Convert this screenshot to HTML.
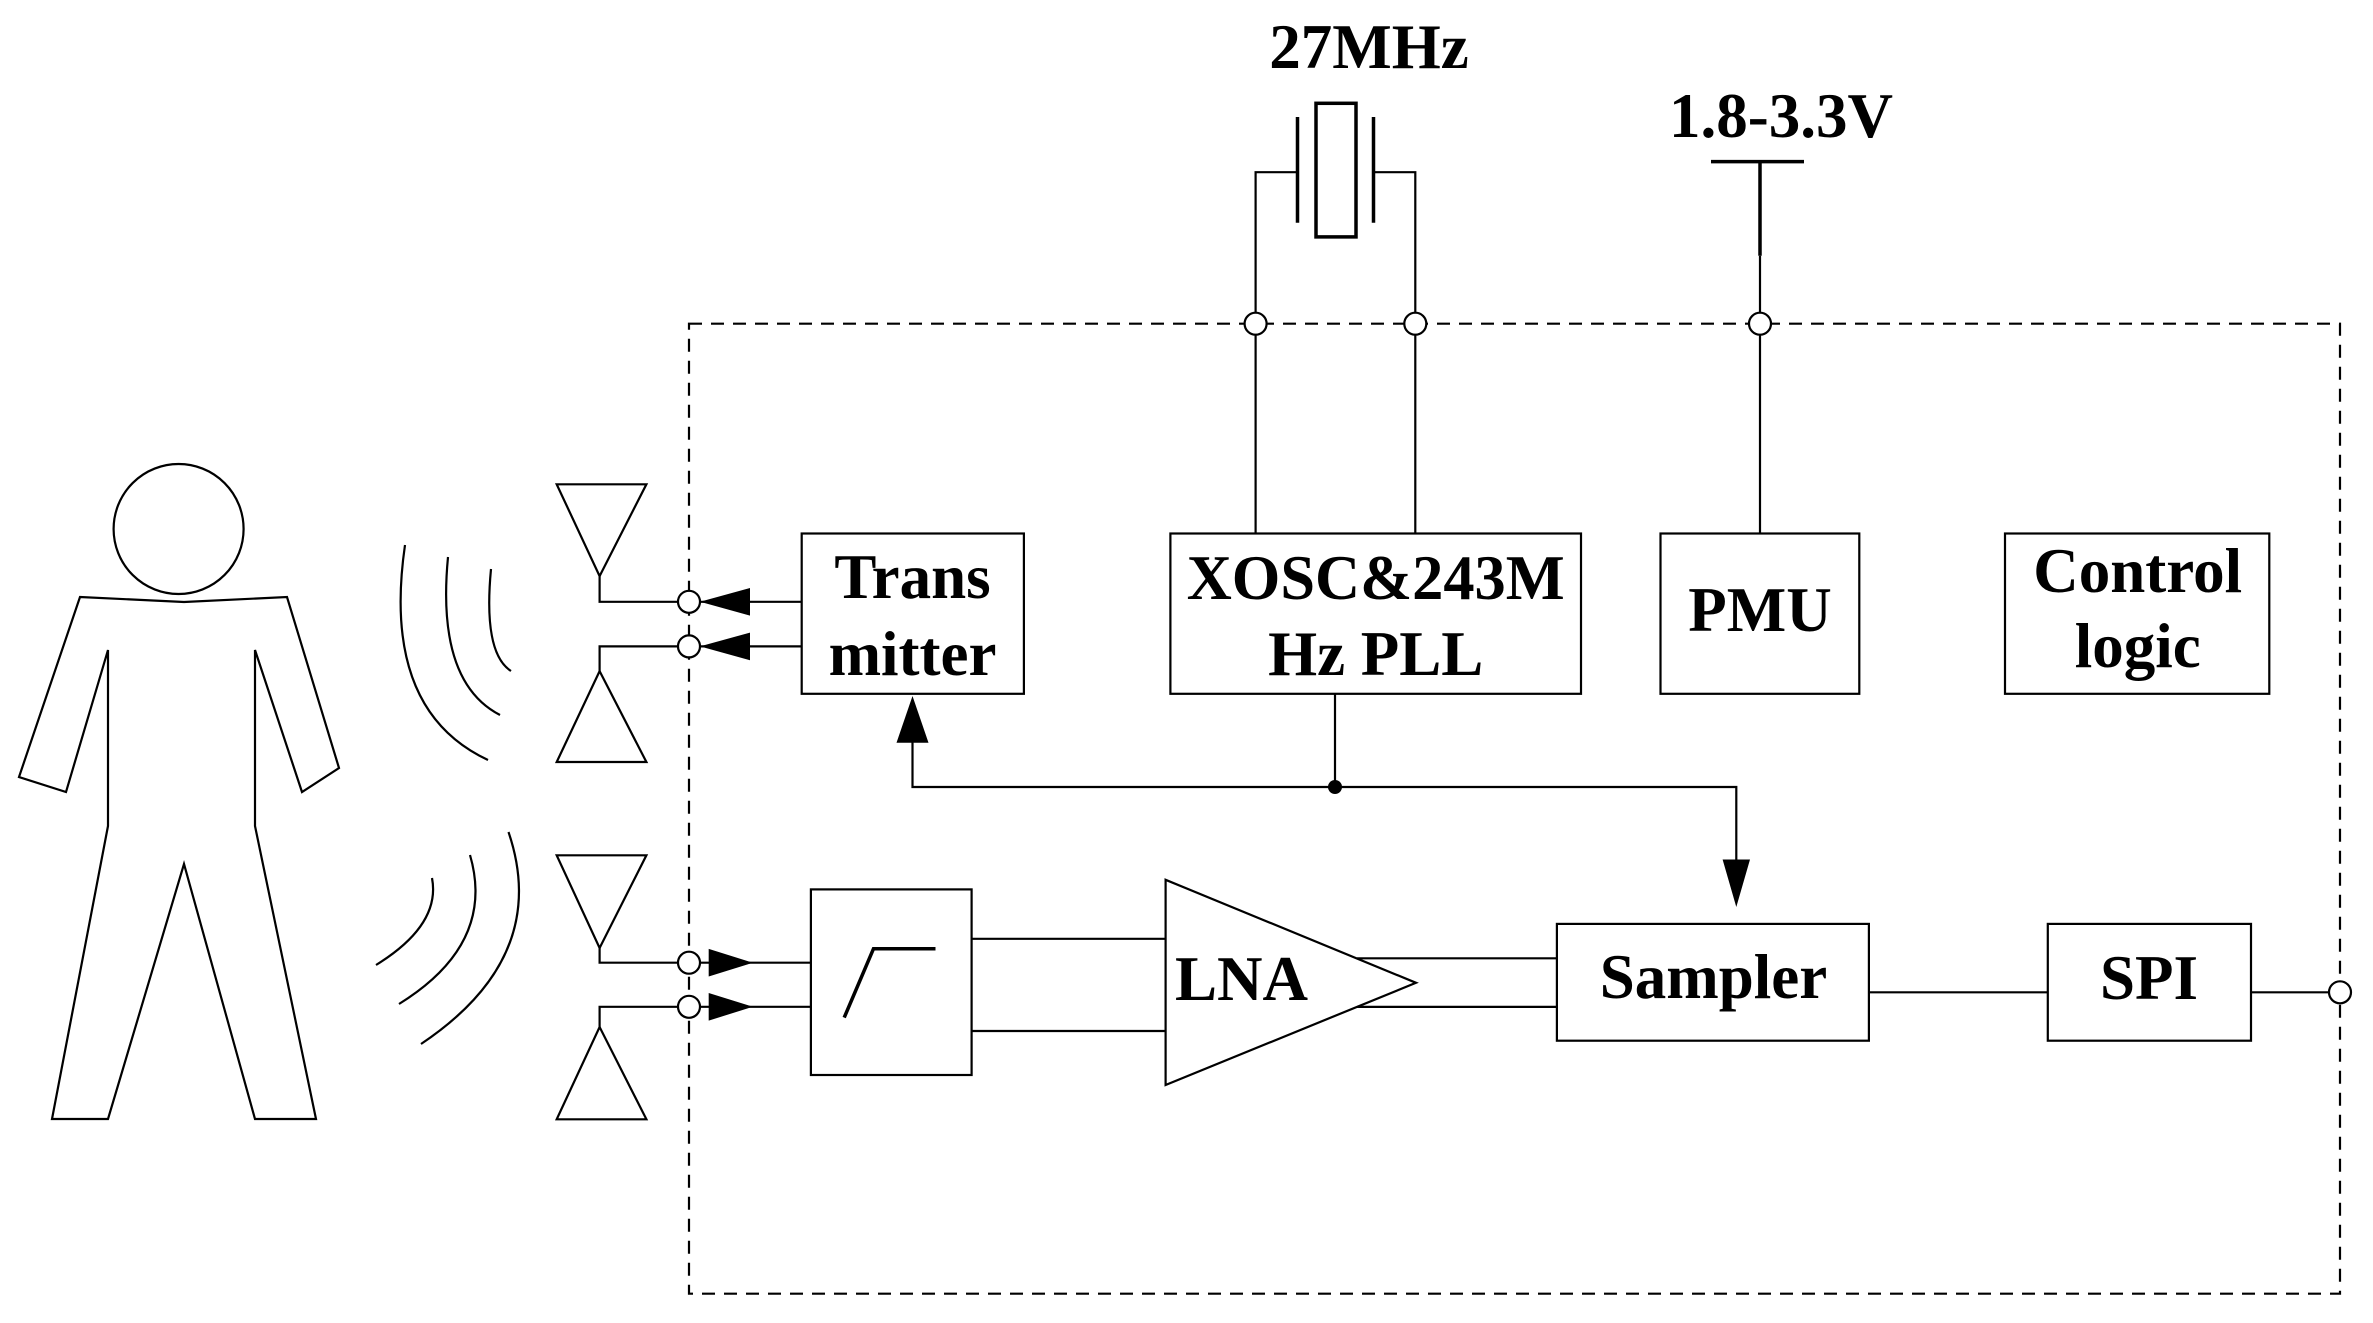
<!DOCTYPE html>
<html><head><meta charset="utf-8"><style>
html,body{margin:0;padding:0;background:#fff}
svg{display:block}
text{font-family:"Liberation Serif",serif;font-weight:bold;fill:#000}
</style></head><body>
<svg width="2373" height="1323" viewBox="0 0 2373 1323" xmlns="http://www.w3.org/2000/svg">
<g fill="none" stroke="#000" stroke-width="2.2">
<!-- dashed chip boundary -->
<rect x="689" y="323.7" width="1651" height="970" stroke-dasharray="13,9"/>
<!-- person -->
<circle cx="178.6" cy="529" r="65"/>
<polygon points="80,597 184,602 287,597 339,768 302,792 255,650 255,826 316,1119 255,1119 184,864 108,1119 52,1119 108,826 108,650 66,792 19,777"/>
<!-- waves -->
<path d="M405,545 Q381,710 488,760"/>
<path d="M448,557 Q436,682 500,715"/>
<path d="M491,569 Q483,653 511,671"/>
<path d="M432,878 Q441,925 376,965"/>
<path d="M470,855 Q496,944 399,1004"/>
<path d="M508.5,832 Q551,957 421,1044"/>
<!-- antennas -->
<polygon points="556.7,484.3 646.4,484.3 599.6,576.1"/>
<polyline points="599.6,576.1 599.6,601.8 678,601.8"/>
<polygon points="556.7,762 646.4,762 599.6,671.1"/>
<polyline points="599.6,671.1 599.6,646.4 678,646.4"/>
<polygon points="556.7,855.3 646.4,855.3 599.6,948"/>
<polyline points="599.6,948 599.6,962.7 678,962.7"/>
<polygon points="556.7,1119.3 646.4,1119.3 599.6,1027"/>
<polyline points="599.6,1027 599.6,1006.8 678,1006.8"/>
<!-- crystal -->
<rect x="1316" y="103.3" width="40" height="133.6" stroke-width="3.5"/>
<line x1="1297.5" y1="117" x2="1297.5" y2="222.7" stroke-width="3.5"/>
<line x1="1373.5" y1="117" x2="1373.5" y2="222.7" stroke-width="3.5"/>
<polyline points="1297.5,172.2 1255.6,172.2 1255.6,533.5"/>
<polyline points="1373.5,172.2 1415.3,172.2 1415.3,533.5"/>
<!-- supply -->
<line x1="1711" y1="161.6" x2="1804" y2="161.6" stroke-width="3.5"/>
<line x1="1760" y1="161.6" x2="1760" y2="255.7" stroke-width="3.5"/>
<line x1="1760" y1="255.7" x2="1760" y2="533.5"/>
<!-- boxes -->
<rect x="801.7" y="533.5" width="222.2" height="160.3"/>
<rect x="1170.4" y="533.5" width="410.6" height="160.3"/>
<rect x="1660.5" y="533.5" width="198.8" height="160.3"/>
<rect x="2005" y="533.5" width="264.3" height="160.3"/>
<rect x="810.9" y="889.4" width="160.7" height="185.6"/>
<rect x="1556.9" y="923.9" width="312" height="116.8"/>
<rect x="2047.8" y="923.9" width="203.2" height="116.8"/>
<!-- filter symbol -->
<polyline points="844.2,1017.6 873.5,948.7 935.5,948.7" stroke-width="3.5"/>
<!-- LNA -->
<polygon points="1165.6,879.8 1165.6,1085 1416,982.8"/>
<line x1="971.6" y1="938.8" x2="1165.6" y2="938.8"/>
<line x1="971.6" y1="1031" x2="1165.6" y2="1031"/>
<line x1="1357" y1="958.3" x2="1556.9" y2="958.3"/>
<line x1="1357" y1="1006.9" x2="1556.9" y2="1006.9"/>
<!-- connections -->
<line x1="1868.9" y1="992.3" x2="2047.8" y2="992.3"/>
<line x1="2251" y1="992.3" x2="2329" y2="992.3"/>
<line x1="700" y1="601.8" x2="801.7" y2="601.8"/>
<line x1="700" y1="646.4" x2="801.7" y2="646.4"/>
<line x1="700" y1="962.7" x2="810.9" y2="962.7"/>
<line x1="700" y1="1006.8" x2="810.9" y2="1006.8"/>
<line x1="1335" y1="693.8" x2="1335" y2="787"/>
<polyline points="912.5,740 912.5,787 1736.3,787 1736.3,860"/>
</g>
<!-- terminals -->
<g fill="#fff" stroke="#000" stroke-width="2.2">
<circle cx="1255.6" cy="323.7" r="11"/>
<circle cx="1415.3" cy="323.7" r="11"/>
<circle cx="1760" cy="323.7" r="11"/>
<circle cx="689" cy="601.8" r="11"/>
<circle cx="689" cy="646.4" r="11"/>
<circle cx="689" cy="962.7" r="11"/>
<circle cx="689" cy="1006.8" r="11"/>
<circle cx="2340" cy="992.3" r="11"/>
</g>
<!-- arrowheads -->
<g fill="#000" stroke="none">
<polygon points="700,601.8 750,588 750,615.6"/>
<polygon points="700,646.4 750,632.6 750,660.2"/>
<polygon points="752.9,962.7 708.7,948.9 708.7,976.5"/>
<polygon points="752.9,1006.8 708.7,993 708.7,1020.6"/>
<polygon points="912.5,696 896.5,742.8 928.5,742.8"/>
<polygon points="1736.3,907 1722.6,859.5 1750,859.5"/>
<circle cx="1335" cy="787" r="7"/>
</g>
<!-- labels -->
<g font-size="63" text-anchor="middle">
<text x="1369" y="68">27MHz</text>
<text x="1781" y="137">1.8-3.3V</text>
<text x="912.5" y="598">Trans</text>
<text x="912.5" y="675">mitter</text>
<text x="1375.7" y="599" textLength="378" lengthAdjust="spacingAndGlyphs">XOSC&amp;243M</text>
<text x="1375.7" y="675">Hz PLL</text>
<text x="1760" y="631">PMU</text>
<text x="2137.7" y="592">Control</text>
<text x="2137.7" y="667">logic</text>
<text x="1713.5" y="998">Sampler</text>
<text x="2149" y="999">SPI</text>
<text x="1175" y="1000" text-anchor="start">LNA</text>
</g>
</svg>
</body></html>
